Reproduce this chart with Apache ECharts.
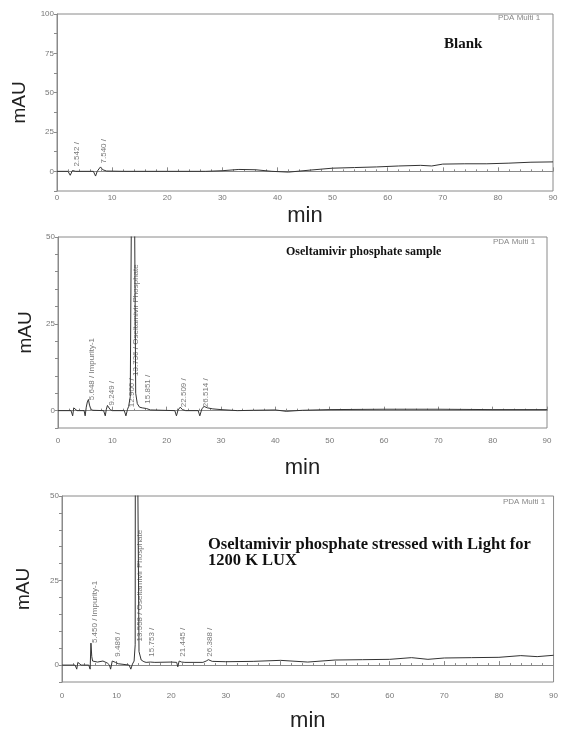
<!DOCTYPE html>
<html>
<head>
<meta charset="utf-8">
<script src="https://cdn.jsdelivr.net/npm/echarts@6/dist/echarts.min.js"></script>
<style>
  html, body { margin: 0; background: #fff; }
  #chart { width: 561px; height: 733px; }
</style>
</head>
<body>
<div id="chart"></div>
<script>
// Blank injection
const blankTime = [0, 2.0, 2.4, 2.6, 2.8, 3.0, 3.4, 6.6, 7.0, 7.3, 7.6, 7.9, 8.3, 9, 12, 20, 27, 30, 33, 36, 39, 42, 46, 50, 54, 58, 62, 66, 68, 70, 74, 78, 82, 86, 90];
const blankSignal = [0, 0, -2.5, -3, 0.5, 0.8, 0, 0, -3, 0, 1.5, 2.8, 1, 0.2, 0, 0, 0, 0.4, 1.2, 1, 0, -0.5, 0.8, 2, 2.4, 2.8, 3.4, 3.8, 3.4, 4.6, 4.8, 4.8, 5.2, 5.8, 6];
const blankPeakTimes = [2.542, 7.54];
const blankPeakTops = [3, 5];
const blankPeakLabels = ["2.542 /", "7.540 /"];

// Oseltamivir phosphate sample
const sampleTime = [0, 2.4, 2.7, 2.9, 3.1, 3.5, 4.8, 5.0, 5.2, 5.4, 5.6, 5.8, 6.0, 6.4, 8.4, 8.7, 8.9, 9.1, 9.3, 9.6, 10.0, 12.2, 12.5, 12.8, 13.0, 13.3, 13.5, 13.74, 14.1, 14.3, 14.6, 15.0, 15.5, 15.85, 16.3, 17.0, 21.5, 21.8, 22.1, 22.5, 22.9, 23.5, 25.8, 26.1, 26.5, 26.9, 27.5, 28.5, 30, 33, 36, 40, 42, 45, 50, 60, 70, 80, 90];
const sampleSignal = [0, 0, -1.5, 0.8, 0.3, 0, 0, -1.5, 1, 2.5, 3.2, 1.6, 0.6, 0.1, 0, -1.5, 0.4, 1.5, 1.0, 0.3, 0, 0, -1.5, 0.4, 1.2, 4, 55, 380, 55, 5, 2, 1, 0.8, 1.3, 0.6, 0.2, 0, -1.5, 0.2, 1, 0.3, 0, 0, -1.5, 0.6, 1.2, 0.8, 0.5, 0.3, 0, 0.1, 0.2, -0.2, 0.1, 0.3, 0.4, 0.4, 0.3, 0.3];
const samplePeakTimes = [5.648, 9.249, 12.906, 13.736, 15.851, 22.509, 26.514];
const samplePeakTops = [3, 1.5, 1, 10, 2, 1, 1];
const samplePeakLabels = ["5.648 / Impurity-1", "9.249 /", "12.906 /", "13.736 / Oseltamivir Phosphate", "15.851 /", "22.509 /", "26.514 /"];

// Stressed with light
const lightTime = [0, 2.4, 2.7, 2.9, 3.1, 3.5, 4.9, 5.15, 5.3, 5.45, 5.6, 5.9, 6.5, 7.5, 8.3, 8.7, 8.9, 9.2, 9.5, 9.8, 10.3, 12.3, 12.6, 12.9, 13.2, 13.4, 13.56, 13.9, 14.1, 14.5, 15.0, 15.4, 15.75, 16.2, 17.0, 20.0, 21.0, 21.2, 21.45, 21.9, 22.5, 25.8, 26.0, 26.4, 26.8, 27.5, 30, 35, 40, 45, 50, 55, 60, 64, 67, 70, 75, 80, 84, 87, 90];
const lightSignal = [0, 0, -1.2, 0.8, 0.4, 0, 0, -1.2, 6.5, 2.5, 1.2, 0.8, 0.9, 1.2, 0.6, 0, -1.2, 1.2, 1.6, 0.8, 0.4, 0, -1.2, 0.3, 1.2, 6, 380, 50, 4, 1.5, 1, 0.8, 1.3, 0.9, 0.8, 0.9, 0.8, -0.5, 1.2, 0.9, 0.8, 0.8, 0.3, 1.2, 1.6, 1.1, 1.0, 1.1, 1.4, 0.9, 1.5, 1.6, 1.7, 2.2, 1.7, 2.1, 2.2, 2.3, 2.8, 2.5, 2.9];
const lightPeakTimes = [5.45, 9.486, 13.558, 15.753, 21.445, 26.388];
const lightPeakTops = [6.5, 2.5, 7, 2.5, 2.5, 2.5];
const lightPeakLabels = ["5.450 / Impurity-1", "9.486 /", "13.558 / Oseltamivir Phosphate", "15.753 /", "21.445 /", "26.388 /"];

const chart = echarts.init(document.getElementById("chart"));

const grids = [
  { left: 57, top: 14, right: 8, height: 177 },
  { left: 58, top: 237, right: 14, height: 191 },
  { left: 62, top: 496, right: 5, height: 197 },
].map((g) => ({ ...g, show: true, borderColor: "#8a8a8a", borderWidth: 1 }));

const axisColor = "#8a8a8a";

function makeX(i, labelMargin, nameGap) {
  return {
    type: "value",
    gridIndex: i,
    min: 0,
    max: 90,
    interval: 10,
    name: "min",
    nameLocation: "middle",
    nameGap: nameGap,
    nameTextStyle: { fontFamily: "Liberation Sans", fontSize: 22, color: "#222" },
    axisLine: { show: true, lineStyle: { color: axisColor } },
    axisTick: { show: true, inside: true, length: 4, lineStyle: { color: axisColor } },
    minorTick: { show: true, splitNumber: 5, length: 2, lineStyle: { color: axisColor } },
    axisLabel: { fontFamily: "Liberation Sans", fontSize: 8, color: "#777", margin: labelMargin },
    splitLine: { show: false },
  };
}

function makeY(i, min, max, interval, nameGap) {
  return {
    type: "value",
    gridIndex: i,
    min: min,
    max: max,
    interval: interval,
    name: "mAU",
    nameLocation: "middle",
    nameRotate: 90,
    nameGap: nameGap,
    nameTextStyle: { fontFamily: "Liberation Sans", fontSize: 19, color: "#222" },
    axisLine: { show: true, lineStyle: { color: axisColor } },
    axisTick: { show: true, length: 3, lineStyle: { color: axisColor } },
    axisLabel: {
      fontFamily: "Liberation Sans",
      fontSize: 8,
      color: "#777",
      margin: 3,
      formatter: (v) => (Math.abs(v % 25) < 1e-6 ? String(v) : ""),
    },
    splitLine: { show: false },
  };
}

function lineSeries(i, times, values) {
  return {
    type: "line",
    xAxisIndex: i,
    yAxisIndex: i,
    data: times.map((t, k) => [t, values[k]]),
    showSymbol: false,
    clip: true,
    lineStyle: { color: "#333", width: 1 },
    silent: true,
  };
}

function peakSeries(i, times, tops, labels, dist) {
  return {
    type: "scatter",
    xAxisIndex: i,
    yAxisIndex: i,
    symbolSize: 1,
    itemStyle: { color: "rgba(0,0,0,0)" },
    data: times.map((t, k) => [t, tops[k]]),
    label: {
      show: true,
      position: "right",
      distance: dist,
      rotate: 90,
      align: "left",
      verticalAlign: "middle",
      fontFamily: "Liberation Sans",
      fontSize: 8,
      color: "#555",
      formatter: (p) => labels[p.dataIndex],
    },
    silent: true,
  };
}

const serifBold = { fontFamily: "Liberation Serif", fontWeight: "bold", color: "#111" };
const pdaStyle = { fontFamily: "Liberation Sans", fontSize: 8, color: "#888", fontWeight: "normal" };

chart.setOption({
  animation: false,
  backgroundColor: "#fff",
  title: [
    { text: "Blank", left: 444, top: 37, padding: 0, textStyle: { ...serifBold, fontSize: 15 } },
    { text: "Oseltamivir phosphate sample", left: 286, top: 246, padding: 0, textStyle: { ...serifBold, fontSize: 12 } },
    {
      text: "Oseltamivir phosphate stressed with Light for\n1200 K LUX",
      left: 208,
      top: 537,
      padding: 0,
      textStyle: { ...serifBold, fontSize: 16.5, lineHeight: 16 },
    },
    { text: "PDA Multi 1", left: 498, top: 14, padding: 0, textStyle: pdaStyle },
    { text: "PDA Multi 1", left: 493, top: 238, padding: 0, textStyle: pdaStyle },
    { text: "PDA Multi 1", left: 503, top: 498, padding: 0, textStyle: pdaStyle },
  ],
  grid: grids,
  xAxis: [makeX(0, 3, 14), makeX(1, 9, 29), makeX(2, 10, 28)],
  yAxis: [makeY(0, -12.5, 100, 12.5, 27), makeY(1, -5, 50, 5, 23), makeY(2, -5, 50, 5, 29)],
  series: [
    lineSeries(0, blankTime, blankSignal),
    peakSeries(0, blankPeakTimes, blankPeakTops, blankPeakLabels, 5),
    lineSeries(1, sampleTime, sampleSignal),
    peakSeries(1, samplePeakTimes, samplePeakTops, samplePeakLabels, 3),
    lineSeries(2, lightTime, lightSignal),
    peakSeries(2, lightPeakTimes, lightPeakTops, lightPeakLabels, 3),
  ],
});
</script>
</body>
</html>
